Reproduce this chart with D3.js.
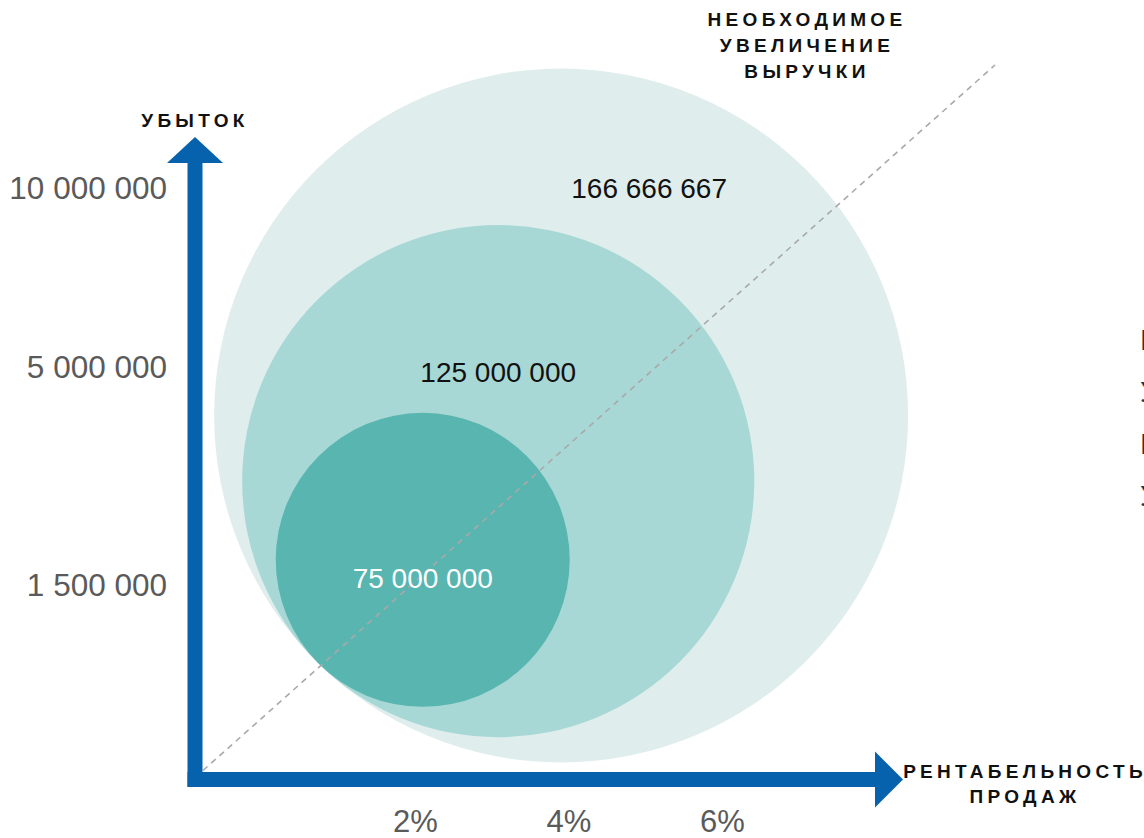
<!DOCTYPE html>
<html>
<head>
<meta charset="utf-8">
<script src="https://cdn.jsdelivr.net/npm/d3@7"></script>
<style>
  body { margin: 0; background: #fff; }
  svg { display: block; font-family: "Liberation Sans", Arial, sans-serif; }
</style>
</head>
<body>
<div id="chart"></div>
<script>
// Data
var lossTicks = [1500000, 5000000, 10000000];          // y-axis rows (убыток)
var marginTicks = [0.02, 0.04, 0.06];                   // x-axis (рентабельность)
var revenueNeeded = [75000000, 125000000, 166666667];  // bubble values
var revenueRows = [1500000, 5000000, 10000000];         // row of each bubble label
var bubbleColors = ["#58b5b0", "#a8d8d5", "#dfeeed"];
var labelColors = ["#ffffff", "#111111", "#111111"];
var topTitle = ["НЕОБХОДИМОЕ", "УВЕЛИЧЕНИЕ", "ВЫРУЧКИ"];
var xTitle = ["РЕНТАБЕЛЬНОСТЬ", "ПРОДАЖ"];
var yTitle = "УБЫТОК";
var sideNote = ["Р", "У", "Р", "У"]; // cut off at the right edge

var W = 1144, H = 838;
var blue = "#0662ad";
var axisX = 195, axisY = 779.5, barW = 15;

var svg = d3.select("#chart")
  .append("svg")
  .attr("width", W)
  .attr("height", H);

// Scales
var y = d3.scaleLinear()
  .domain([1500000, 5000000, 10000000])
  .range([585, 367, 188]);

var x = d3.scaleLinear()
  .domain([0.02, 0.06])
  .range([415, 722]);

var r = d3.scaleLinear()
  .domain([75000000, 166666667])
  .range([147, 347]);

// all bubbles touch at one point (lower left)
var touch = { x: 321, y: 666 }, dir = { x: -0.692, y: 0.722 };
var bubbles = revenueNeeded.map(function (v, i) {
  var rad = r(v);
  return {
    value: v,
    row: revenueRows[i],
    r: rad,
    cx: touch.x - rad * dir.x,
    cy: touch.y - rad * dir.y,
    color: bubbleColors[i],
    textColor: labelColors[i]
  };
});

var fmt = d3.formatLocale({ decimal: ",", thousands: " ", grouping: [3], currency: ["", ""] }).format(",d");

// Bubbles, biggest first
svg.selectAll("circle.bubble")
  .data(bubbles.slice().reverse())
  .enter()
  .append("circle")
  .attr("class", "bubble")
  .attr("cx", d => d.cx)
  .attr("cy", d => d.cy)
  .attr("r", d => d.r)
  .attr("fill", d => d.color);

// dashed diagonal
svg.append("line")
  .attr("x1", axisX + 8).attr("y1", axisY - 9)
  .attr("x2", 995).attr("y2", 65)
  .attr("stroke", "#a9a9a9")
  .attr("stroke-width", 1.6)
  .attr("stroke-dasharray", "6,5");

// bubble labels (slightly off their rows, like the original)
var labelDx = [0, 0, 88], labelDy = [-7, 5, 0];
svg.selectAll("text.val")
  .data(bubbles)
  .enter()
  .append("text")
  .attr("class", "val")
  .attr("x", (d, i) => d.cx + labelDx[i])
  .attr("y", (d, i) => y(d.row) + labelDy[i])
  .attr("dy", "0.35em")
  .attr("text-anchor", "middle")
  .style("font-size", "28px")
  .style("fill", d => d.textColor)
  .text(d => fmt(d.value));

// Axes tick labels
var yAxis = svg.append("g")
  .attr("transform", "translate(" + axisX + ",0)")
  .call(d3.axisLeft(y).tickValues(lossTicks).tickSize(0).tickPadding(28).tickFormat(fmt));
yAxis.select(".domain").remove();
yAxis.selectAll("text")
  .style("font-size", "31.5px")
  .style("font-family", "Liberation Sans, Arial, sans-serif")
  .attr("fill", "#5a5a5a");

var xAxis = svg.append("g")
  .attr("transform", "translate(0," + axisY + ")")
  .call(d3.axisBottom(x).tickValues(marginTicks).tickSize(0).tickPadding(30).tickFormat(d3.format(".0%")));
xAxis.select(".domain").remove();
xAxis.selectAll("text")
  .style("font-size", "31px")
  .style("font-family", "Liberation Sans, Arial, sans-serif")
  .attr("fill", "#5a5a5a");

// Axis arrows
svg.append("rect")
  .attr("x", axisX - barW / 2).attr("y", 160)
  .attr("width", barW).attr("height", axisY + barW / 2 - 160)
  .attr("fill", blue);
svg.append("path")
  .attr("d", "M" + (axisX - 28) + ",163L" + axisX + ",137L" + (axisX + 28) + ",163Z")
  .attr("fill", blue);

svg.append("rect")
  .attr("x", axisX - barW / 2).attr("y", axisY - barW / 2)
  .attr("width", 878 - (axisX - barW / 2)).attr("height", barW)
  .attr("fill", blue);
svg.append("path")
  .attr("d", "M875," + (axisY - 28) + "L903," + axisY + "L875," + (axisY + 28) + "Z")
  .attr("fill", blue);

// Titles
function boldLines(lines, cx, y0, step) {
  svg.append("g").selectAll("text")
    .data(lines)
    .enter()
    .append("text")
    .attr("x", cx + 2)
    .attr("y", (d, i) => y0 + i * step)
    .attr("text-anchor", "middle")
    .style("font-size", "19px")
    .style("font-weight", "bold")
    .style("letter-spacing", "4.3px")
    .style("fill", "#111")
    .text(d => d);
}
boldLines(topTitle, 805, 26, 26);
boldLines(xTitle, 1023, 778, 25);
boldLines([yTitle], 193, 127, 0);

// text cut off at the right edge
svg.append("g").selectAll("text")
  .data(sideNote)
  .enter()
  .append("text")
  .attr("x", 1140)
  .attr("y", (d, i) => 350 + i * 52)
  .style("font-size", "30px")
  .style("fill", "#333")
  .text(d => d);
</script>
</body>
</html>
